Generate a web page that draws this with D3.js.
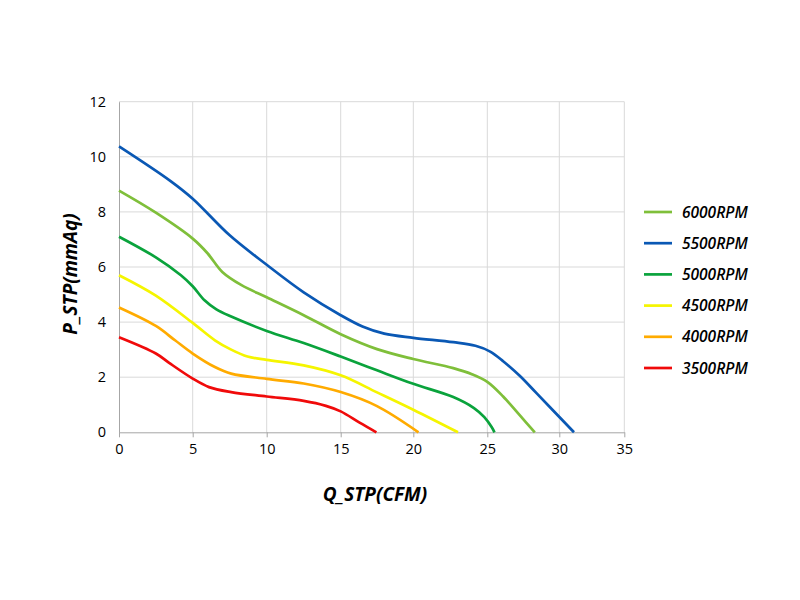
<!DOCTYPE html>
<html><head><meta charset="utf-8">
<script src="https://cdn.jsdelivr.net/npm/d3@7"></script>
<style>body{margin:0;background:#fff;} svg{display:block;}</style>
</head><body>
<svg id="chart" width="800" height="600"></svg>
<script>
const seriesNames = ["6000RPM","5500RPM","5000RPM","4500RPM","4000RPM","3500RPM"];
const seriesColors = ["#7fbf3a","#0a58b4","#0aa33c","#f5f500","#ffab00","#f00a0a"];
const rpm6000 = [[0,8.77],[2.5,7.97],[5,7.03],[6,6.5],[7,5.82],[8.3,5.34],[10,4.9],[12.5,4.25],[15,3.56],[17.5,3.02],[20,2.66],[22.7,2.33],[24,2.1],[25,1.83],[26.1,1.3],[27.25,0.62],[28.3,0]];
const rpm5500 = [[0,10.38],[3.5,9.12],[5,8.48],[7.5,7.15],[10,6.08],[12.5,5.08],[15,4.25],[16.5,3.84],[18,3.58],[20,3.43],[22.7,3.27],[24.2,3.14],[25.2,2.93],[26.1,2.58],[27.25,2.05],[28.4,1.43],[31.13,0]];
const rpm5000 = [[0,7.1],[2.5,6.35],[4.2,5.7],[5,5.3],[5.8,4.79],[6.6,4.46],[7.6,4.2],[10,3.68],[12.5,3.24],[15,2.75],[17.5,2.25],[20,1.76],[22.7,1.28],[24.1,0.88],[24.8,0.55],[25.3,0.19],[25.5,0]];
const rpm4500 = [[0,5.7],[2.5,4.96],[5,3.97],[6.5,3.34],[7.6,3.0],[8.7,2.75],[10,2.63],[12.5,2.43],[15,2.07],[17.5,1.45],[20,0.82],[23.02,0]];
const rpm4000 = [[0,4.53],[2.5,3.86],[3.8,3.34],[5,2.86],[6.5,2.37],[7.6,2.13],[10,1.94],[12.5,1.77],[15,1.46],[17.5,0.95],[20.35,0]];
const rpm3500 = [[0,3.45],[2.5,2.86],[3.4,2.52],[5,1.95],[6.1,1.64],[7.6,1.46],[10,1.3],[12.5,1.14],[14,0.96],[15,0.76],[16.3,0.35],[17.46,0]];
const allSeries = [rpm6000,rpm5500,rpm5000,rpm4500,rpm4000,rpm3500];
const xTicks = [0,5,10,15,20,25,30,35];
const yTicks = [0,2,4,6,8,10,12];

const svg = d3.select("#chart");
const T=101.7,B=432.3;
// tick positions as measured on the reference (its horizontal spacing is slightly uneven)
const xTickPx = [119,192.7,266.7,340.7,413.3,487.3,559.3,624.3];
const x = d3.scaleLinear().domain(xTicks).range(xTickPx);
const L = x(0), R = x(35);
const y = d3.scaleLinear().domain([0,12]).range([B,T]);
const font = "'Open Sans', 'Noto Sans', sans-serif";

// grid
svg.append("g").selectAll("line").data(yTicks.filter(d=>d>0)).join("line")
  .attr("x1",L).attr("x2",R).attr("y1",d=>y(d)).attr("y2",d=>y(d))
  .attr("stroke","#d9d9d9").attr("stroke-width",1);
svg.append("g").selectAll("line").data(xTicks.filter(d=>d>0)).join("line")
  .attr("x1",d=>x(d)).attr("x2",d=>x(d)).attr("y1",T).attr("y2",B)
  .attr("stroke","#d9d9d9").attr("stroke-width",1);

// axes
const xAxis = svg.append("g").attr("transform",`translate(0,${B})`)
  .call(d3.axisBottom(x).tickValues(xTicks).tickFormat(d3.format("d")).tickSize(5).tickSizeOuter(0).tickPadding(6));
xAxis.select(".domain").attr("stroke","#a6a6a6");
xAxis.selectAll(".tick line").attr("stroke","#a6a6a6");
xAxis.selectAll("text").attr("font-family",font).attr("font-size",14.5).attr("fill","#000");

const yAxis = svg.append("g").attr("transform",`translate(${L},0)`)
  .call(d3.axisLeft(y).tickValues(yTicks).tickSize(0).tickSizeOuter(0).tickPadding(13));
yAxis.select(".domain").attr("stroke","#a6a6a6");
yAxis.selectAll("text").attr("font-family",font).attr("font-size",14.5).attr("fill","#000");

// lines
const line = d3.line().x(d=>x(d[0])).y(d=>y(d[1])).curve(d3.curveCatmullRom.alpha(0.5));
svg.append("g").selectAll("path").data(allSeries).join("path")
  .attr("d",line).attr("fill","none")
  .attr("stroke",(d,i)=>seriesColors[i]).attr("stroke-width",2.7)
  .attr("stroke-linejoin","round");

// axis titles
svg.append("text").attr("x",375).attr("y",501).attr("text-anchor","middle")
  .attr("font-family",font).attr("font-size",19).attr("font-weight","bold").attr("font-style","italic")
  .text("Q_STP(CFM)");
svg.append("text").attr("transform","translate(77,274) rotate(-90)").attr("text-anchor","middle")
  .attr("font-family",font).attr("font-size",19).attr("font-weight","bold").attr("font-style","italic")
  .text("P_STP(mmAq)");

// legend
const lg = svg.append("g");
seriesNames.forEach((n,i)=>{
  const yy = 212 + i*31.2;
  lg.append("line").attr("x1",644).attr("x2",672).attr("y1",yy).attr("y2",yy)
    .attr("stroke",seriesColors[i]).attr("stroke-width",2.7);
  lg.append("text").attr("x",682).attr("y",yy+5.5).attr("font-family",font)
    .attr("font-size",15.5).attr("font-style","italic").attr("font-weight","600").text(n);
});
</script>
</body></html>
